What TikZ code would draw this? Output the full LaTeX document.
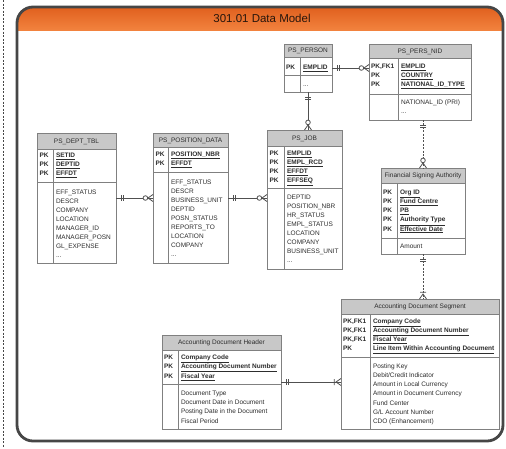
\documentclass[tikz,border=0pt]{standalone}
\usepackage{fontspec}
\setmainfont{Liberation Sans}
\definecolor{txt}{RGB}{45,45,45}
\definecolor{boxline}{RGB}{128,128,128}
\definecolor{hdrfill}{RGB}{200,200,200}
\definecolor{linkc}{RGB}{80,80,80}
\definecolor{framec}{RGB}{70,70,70}
\definecolor{orangetop}{RGB}{224,96,30}
\definecolor{orangebot}{RGB}{242,130,62}
\definecolor{titletxt}{RGB}{40,22,12}

% trailing "more columns" marker (kept out of \foreach lists literally)
\newcommand\trail{...}

% Entity table: #1 name, #2 left, #3 top, #4 right, #5 bottom,
% #6 header bottom, #7 key section bottom, #8 column divider x, #9 title
\newcommand\entity[9]{%
  \fill[hdrfill] (#2,#3) rectangle (#4,#6);
  \draw[box] (#2,#6) -- (#4,#6) (#2,#7) -- (#4,#7) (#8,#6) -- (#8,#5);
  \node[box, anchor=north west, minimum width={(#4-#2)*1pt},
        minimum height={(#5-#3)*1pt}] (#1) at (#2,#3) {};
  \node[hdr] (#1-title) at ({(#2+#4)/2},{(#3+#6)/2}) {#9};}

% Text rows: #1 name prefix, #2 x, #3 first row y, #4 row step,
% #5 node style, #6 text wrapper, #7 list of texts
\newcommand\rows[7]{%
  \foreach \t [count=\i] in {#7}
    \node[#5] (#1\i) at (#2,{#3+(\i-1)*#4}) {#6{\t}};}

\begin{document}
\begin{tikzpicture}[x=1pt,y=-1pt,
  every node/.style={inner sep=0pt, outer sep=0pt, text=txt},
  hdr/.style={font=\fontsize{6.5}{7}\selectfont, text height=4.7pt, text depth=0pt},
  attr/.style={font=\fontsize{6.5}{7}\selectfont, text height=4.7pt, text depth=0pt, anchor=west},
  keyattr/.style={attr, font=\fontsize{6.5}{7}\selectfont\bfseries},
  box/.style={draw=boxline, line width=0.8pt},
  link/.style={draw=linkc, line width=0.8pt},
  dlink/.style={link, dash pattern=on 2pt off 1.4pt},
  mk/.style={draw=linkc, line width=0.8pt},
  oneone/.pic={\draw[mk] (5.5,-3) -- (5.5,3) (7.5,-3) -- (7.5,3);},
  zeromany/.pic={\draw[mk] (0,-3.5) -- (-5,0) -- (0,3.5);
                 \draw[mk, fill=white] (-7.6,0) circle[radius=2.3pt];},
  onemany/.pic={\draw[mk] (0,-3.5) -- (-5,0) -- (0,3.5) (-6.8,-3) -- (-6.8,3);}
]
\useasboundingbox (0,0) rectangle (506,448);
\fill[white] (0,0) rectangle (506,448);

% dotted margin rule on the left
\draw[framec, line width=1pt, dash pattern=on 2pt off 1.5pt] (3.5,0) -- (3.5,448);

% panel with orange title band
\begin{scope}
  \clip[rounded corners=16pt] (17,7) rectangle (503,441);
  \shade[top color=orangetop, bottom color=orangebot] (17,7) rectangle (503,30);
\end{scope}
\draw[framec, line width=2.8pt, rounded corners=16pt] (17,7) rectangle (503,441);
\node[font=\fontsize{11.5}{13}\selectfont, text=titletxt] (paneltitle) at (262,18.5) {301.01 Data Model};

% ---------- entities ----------
\entity{person}{284}{44}{332}{92}{57}{75}{300}{PS\_PERSON}
\rows{person-k}{286}{67}{9}{keyattr}{\relax}{PK}
\rows{person-a}{303}{67}{9}{keyattr}{\underline}{EMPLID}
\rows{person-b}{303}{84}{9}{attr}{\relax}{\trail}

\entity{nid}{369}{44}{471}{120}{58}{94}{398}{PS\_PERS\_NID}
\rows{nid-k}{371}{66}{9}{keyattr}{\relax}{{PK,FK1},PK,PK}
\rows{nid-a}{401}{66}{9}{keyattr}{\underline}{EMPLID,COUNTRY,NATIONAL\_ID\_TYPE}
\rows{nid-b}{401}{102}{9}{attr}{\relax}{NATIONAL\_ID (PRI),\trail}

\entity{dept}{37}{133}{116}{263}{149}{182}{53}{PS\_DEPT\_TBL}
\rows{dept-k}{39.5}{155}{9}{keyattr}{\relax}{PK,PK,PK}
\rows{dept-a}{56}{155}{9}{keyattr}{\underline}{SETID,DEPTID,EFFDT}
\rows{dept-b}{56}{192}{9}{attr}{\relax}{EFF\_STATUS,DESCR,COMPANY,LOCATION,MANAGER\_ID,MANAGER\_POSN,GL\_EXPENSE,\trail}

\entity{posn}{153}{133}{228}{263}{147}{172}{168}{PS\_POSITION\_DATA}
\rows{posn-k}{155.5}{154}{9}{keyattr}{\relax}{PK,PK}
\rows{posn-a}{171}{154}{9}{keyattr}{\underline}{POSITION\_NBR,EFFDT}
\rows{posn-b}{171}{182}{9}{attr}{\relax}{EFF\_STATUS,DESCR,BUSINESS\_UNIT,DEPTID,POSN\_STATUS,REPORTS\_TO,LOCATION,COMPANY,\trail}

\entity{job}{267}{130}{342}{269}{146}{188}{284}{PS\_JOB}
\rows{job-k}{269.5}{153}{9}{keyattr}{\relax}{PK,PK,PK,PK}
\rows{job-a}{287}{153}{9}{keyattr}{\underline}{EMPLID,EMPL\_RCD,EFFDT,EFFSEQ}
\rows{job-b}{287}{197}{9}{attr}{\relax}{DEPTID,POSITION\_NBR,HR\_STATUS,EMPL\_STATUS,LOCATION,COMPANY,BUSINESS\_UNIT,\trail}

\entity{fsa}{381}{168}{465}{254}{183}{238}{397}{Financial Signing Authority}
\rows{fsa-k}{383}{192}{9.2}{keyattr}{\relax}{PK,PK,PK,PK,PK}
\rows{fsa-a}{400}{192}{9.2}{keyattr}{\underline}{Org ID,Fund Centre,PB,Authority Type,Effective Date}
\rows{fsa-b}{400}{246}{9}{attr}{\relax}{Amount}

\entity{ads}{341}{299}{499}{429}{314}{357}{370}{Accounting Document Segment}
\rows{ads-k}{343}{321}{9}{keyattr}{\relax}{{PK,FK1},{PK,FK1},{PK,FK1},PK}
\rows{ads-a}{373}{321}{9}{keyattr}{\underline}{Company Code,Accounting Document Number,Fiscal Year,Line Item Within Accounting Document}
\rows{ads-b}{373}{366}{9.2}{attr}{\relax}{Posting Key,Debit/Credit Indicator,Amount in Local Currency,Amount in Document Currency,Fund Center,G/L Account Number,CDO (Enhancement)}

\entity{adh}{162}{335}{281}{429}{350}{384}{178}{Accounting Document Header}
\rows{adh-k}{164}{357}{9.5}{keyattr}{\relax}{PK,PK,PK}
\rows{adh-a}{181}{357}{9.5}{keyattr}{\underline}{Company Code,Accounting Document Number,Fiscal Year}
\rows{adh-b}{181}{393}{9.3}{attr}{\relax}{Document Type,Document Date in Document,Posting Date in the Document,Fiscal Period}

% ---------- relationships ----------
\coordinate (r1) at (0,68);
\coordinate (r2) at (0,198);
\coordinate (r3) at (0,382);
\coordinate (v1) at (308,0);
\coordinate (v2) at (423,0);

% PS_PERSON -- PS_PERS_NID
\draw[link] (person.east |- r1) -- (nid.west |- r1);
\pic at (person.east |- r1) {oneone};
\pic at (nid.west |- r1) {zeromany};

% PS_PERSON -- PS_JOB
\draw[link] (person.south -| v1) -- (job.north -| v1);
\pic[rotate=-90] at (person.south -| v1) {oneone};
\pic[rotate=-90] at (job.north -| v1) {zeromany};

% PS_DEPT_TBL -- PS_POSITION_DATA
\draw[link] (dept.east |- r2) -- (posn.west |- r2);
\pic at (dept.east |- r2) {oneone};
\pic at (posn.west |- r2) {zeromany};

% PS_POSITION_DATA -- PS_JOB
\draw[link] (posn.east |- r2) -- (job.west |- r2);
\pic at (posn.east |- r2) {oneone};
\pic at (job.west |- r2) {zeromany};

% PS_PERS_NID -- Financial Signing Authority
\draw[dlink] (nid.south -| v2) -- (fsa.north -| v2);
\pic[rotate=-90] at (nid.south -| v2) {oneone};
\pic[rotate=-90] at (fsa.north -| v2) {zeromany};

% Financial Signing Authority -- Accounting Document Segment
\draw[dlink] (fsa.south -| v2) -- (ads.north -| v2);
\pic[rotate=-90] at (fsa.south -| v2) {oneone};
\pic[rotate=-90] at (ads.north -| v2) {onemany};

% Accounting Document Header -- Accounting Document Segment
\draw[link] (adh.east |- r3) -- (ads.west |- r3);
\pic at (adh.east |- r3) {oneone};
\pic at (ads.west |- r3) {onemany};
\end{tikzpicture}
\end{document}
